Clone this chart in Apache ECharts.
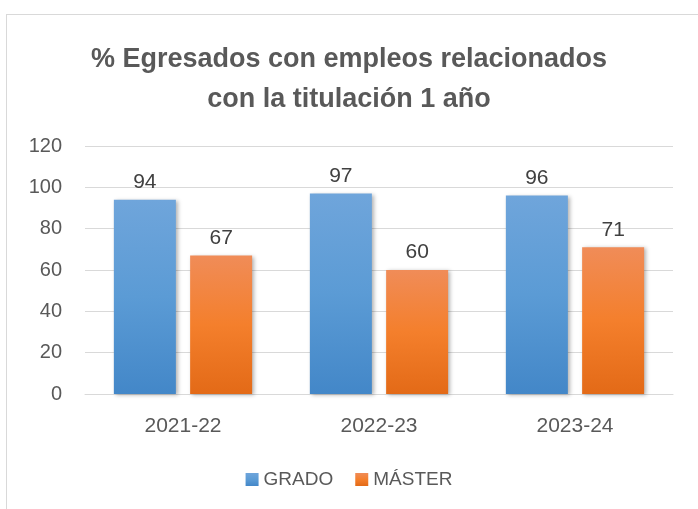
<!DOCTYPE html>
<html>
<head>
<meta charset="utf-8">
<script src="https://cdn.jsdelivr.net/npm/echarts@6/dist/echarts.min.js"></script>
<style>
  html, body { margin: 0; padding: 0; background: #fff; overflow: hidden; }
  #frame { position: absolute; left: 6px; top: 14px; width: 720px; height: 520px; border: 1px solid #d9d9d9; }
  #chart { position: absolute; left: 0; top: 0; width: 698px; height: 509px; }
</style>
</head>
<body>
<div id="frame"></div>
<div id="chart"></div>
<script>
// chart data
const categories = ['2021-22', '2022-23', '2023-24'];
const grado = [94, 97, 96];
const master = [67, 60, 71];
const yTicks = { min: 0, max: 120, interval: 20 };

const FONT = '"Liberation Sans", Arial, sans-serif';

function grad(stops) {
    return new echarts.graphic.LinearGradient(0, 0, 0, 1,
        stops.map((c, i) => ({ offset: i / (stops.length - 1), color: c })));
}

const chart = echarts.init(document.getElementById('chart'), null, { renderer: 'canvas' });

const barShadow = {
    shadowBlur: 4,
    shadowColor: 'rgba(0,0,0,0.3)',
    shadowOffsetX: 2,
    shadowOffsetY: 1
};

const labelStyle = { show: true, position: 'top', distance: 7, fontFamily: FONT, fontSize: 21, color: '#404040' };

chart.setOption({
    animation: false,
    title: {
        text: '% Egresados con empleos relacionados\ncon la titulación 1 año',
        left: 'center',
        top: 35,
        textStyle: {
            fontFamily: FONT,
            fontWeight: 'bold',
            fontSize: 27,
            lineHeight: 40,
            color: '#595959'
        }
    },
    grid: { left: 85, right: 25, top: 146, bottom: 115 },
    legend: {
        bottom: 15,
        left: 'center',
        itemWidth: 13,
        itemHeight: 13,
        itemGap: 22,
        icon: 'rect',
        textStyle: { fontFamily: FONT, fontSize: 19, color: '#595959' },
        data: ['GRADO', 'MÁSTER']
    },
    xAxis: {
        type: 'category',
        data: categories,
        axisLine: { lineStyle: { color: '#d9d9d9', width: 1 } },
        axisTick: { show: false },
        axisLabel: { fontFamily: FONT, fontSize: 21, color: '#595959', margin: 22 }
    },
    yAxis: {
        type: 'value',
        min: yTicks.min,
        max: yTicks.max,
        interval: yTicks.interval,
        axisLine: { show: false },
        axisTick: { show: false },
        axisLabel: { fontFamily: FONT, fontSize: 20, color: '#595959', margin: 23 },
        splitLine: { lineStyle: { color: '#d9d9d9', width: 1 } }
    },
    series: [
        {
            name: 'GRADO',
            type: 'bar',
            data: grado,
            barWidth: 62,
            barGap: '23%',
            itemStyle: Object.assign({ color: grad(['#6fa5db', '#5b9bd5', '#4387c8']) }, barShadow),
            label: labelStyle
        },
        {
            name: 'MÁSTER',
            type: 'bar',
            data: master,
            barWidth: 62,
            itemStyle: Object.assign({ color: grad(['#f08c58', '#f47f2c', '#e36a17']) }, barShadow),
            label: labelStyle
        }
    ]
});
</script>
</body>
</html>
